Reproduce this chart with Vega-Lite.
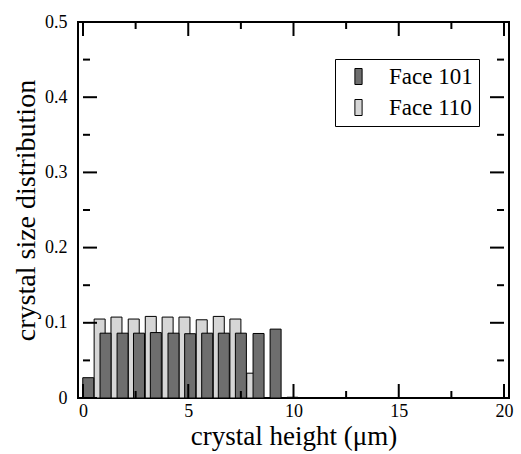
{
  "$schema": "https://vega.github.io/schema/vega-lite/v6.json",
  "width": 431,
  "height": 376,
  "autosize": "none",
  "padding": {"left": 78, "top": 22, "right": 12, "bottom": 56},
  "background": "white",
  "config": {"view": {"stroke": "black", "strokeWidth": 2}, "font": "Liberation Serif"},
  "datasets": {
    "bars": [
      {"height": 0.79, "dist": 0.105, "face": "Face 110"},
      {"height": 1.59, "dist": 0.1076, "face": "Face 110"},
      {"height": 2.41, "dist": 0.105, "face": "Face 110"},
      {"height": 3.22, "dist": 0.1085, "face": "Face 110"},
      {"height": 4.02, "dist": 0.1076, "face": "Face 110"},
      {"height": 4.82, "dist": 0.1076, "face": "Face 110"},
      {"height": 5.64, "dist": 0.104, "face": "Face 110"},
      {"height": 6.45, "dist": 0.1085, "face": "Face 110"},
      {"height": 7.24, "dist": 0.105, "face": "Face 110"},
      {"height": 8.04, "dist": 0.033, "face": "Face 110"},
      {"height": 0.25, "dist": 0.027, "face": "Face 101"},
      {"height": 1.07, "dist": 0.0862, "face": "Face 101"},
      {"height": 1.88, "dist": 0.0862, "face": "Face 101"},
      {"height": 2.66, "dist": 0.0862, "face": "Face 101"},
      {"height": 3.46, "dist": 0.087, "face": "Face 101"},
      {"height": 4.3, "dist": 0.0862, "face": "Face 101"},
      {"height": 5.09, "dist": 0.0855, "face": "Face 101"},
      {"height": 5.9, "dist": 0.0862, "face": "Face 101"},
      {"height": 6.69, "dist": 0.0862, "face": "Face 101"},
      {"height": 7.5, "dist": 0.0862, "face": "Face 101"},
      {"height": 8.34, "dist": 0.0858, "face": "Face 101"},
      {"height": 9.15, "dist": 0.0916, "face": "Face 101"},
      {"height": 9.95, "dist": 0.001, "face": "Face 101"}
    ],
    "xmajor": [{"v": 0}, {"v": 5}, {"v": 10}, {"v": 15}, {"v": 20}],
    "xminor": [{"v": 2.5}, {"v": 7.5}, {"v": 12.5}, {"v": 17.5}],
    "ymajor": [{"v": 0}, {"v": 0.1}, {"v": 0.2}, {"v": 0.3}, {"v": 0.4}, {"v": 0.5}],
    "yminor": [{"v": 0.05}, {"v": 0.15}, {"v": 0.25}, {"v": 0.35}, {"v": 0.45}]
  },
  "layer": [
    {
      "data": {"name": "bars"},
      "mark": {"type": "bar", "size": 11, "stroke": "black", "strokeWidth": 1},
      "encoding": {
        "x": {"field": "height", "type": "quantitative", "scale": {"domain": [0, 20], "nice": false, "zero": false},
          "axis": {"orient": "bottom", "values": [0, 5, 10, 15, 20], "format": "d",
            "grid": false, "domain": false, "ticks": false,
            "labelFontSize": 18, "labelColor": "black", "labelPadding": 4, "labelFlush": false,
            "title": "crystal height (μm)", "titleFontSize": 27, "titleFontWeight": "normal", "titleColor": "black", "titlePadding": 3}},
        "y": {"field": "dist", "type": "quantitative", "scale": {"domain": [0, 0.5], "nice": false},
          "axis": {"orient": "left", "values": [0, 0.1, 0.2, 0.3, 0.4, 0.5], "format": "~g",
            "grid": false, "domain": false, "ticks": false,
            "labelFontSize": 18, "labelColor": "black", "labelPadding": 11, "labelFlush": false,
            "title": "crystal size distribution", "titleFontSize": 28, "titleFontWeight": "normal", "titleColor": "black", "titlePadding": 4}},
        "color": {"field": "face", "type": "nominal",
          "scale": {"domain": ["Face 101", "Face 110"], "range": ["#6e6e6e", "#d6d6d6"]},
          "legend": {"orient": "none", "legendX": 257, "legendY": 37, "title": null,
            "fillColor": "white", "strokeColor": "black", "padding": 6, "symbolOffset": 6,
            "symbolType": "M-0.45,-1L0.45,-1L0.45,1L-0.45,1Z", "symbolSize": 256,
            "symbolStrokeColor": "black", "symbolStrokeWidth": 1, "symbolOpacity": 1,
            "labelFontSize": 23, "labelColor": "black", "labelOffset": 19, "rowPadding": 7}}
      }
    },
    {
      "data": {"name": "xmajor"},
      "mark": {"type": "rule", "color": "black", "strokeWidth": 2, "y2Offset": -14},
      "encoding": {"x": {"field": "v", "type": "quantitative"}, "y": {"datum": 0}, "y2": {"datum": 0}}
    },
    {
      "data": {"name": "xminor"},
      "mark": {"type": "rule", "color": "black", "strokeWidth": 2, "y2Offset": -7},
      "encoding": {"x": {"field": "v", "type": "quantitative"}, "y": {"datum": 0}, "y2": {"datum": 0}}
    },
    {
      "data": {"name": "xmajor"},
      "mark": {"type": "rule", "color": "black", "strokeWidth": 2, "y2Offset": 14},
      "encoding": {"x": {"field": "v", "type": "quantitative"}, "y": {"datum": 0.5}, "y2": {"datum": 0.5}}
    },
    {
      "data": {"name": "xminor"},
      "mark": {"type": "rule", "color": "black", "strokeWidth": 2, "y2Offset": 7},
      "encoding": {"x": {"field": "v", "type": "quantitative"}, "y": {"datum": 0.5}, "y2": {"datum": 0.5}}
    },
    {
      "data": {"name": "ymajor"},
      "mark": {"type": "rule", "color": "black", "strokeWidth": 2, "x2Offset": 14},
      "encoding": {"y": {"field": "v", "type": "quantitative"}, "x": {"datum": 0}, "x2": {"datum": 0}}
    },
    {
      "data": {"name": "yminor"},
      "mark": {"type": "rule", "color": "black", "strokeWidth": 2, "x2Offset": 7},
      "encoding": {"y": {"field": "v", "type": "quantitative"}, "x": {"datum": 0}, "x2": {"datum": 0}}
    },
    {
      "data": {"name": "ymajor"},
      "mark": {"type": "rule", "color": "black", "strokeWidth": 2, "x2Offset": -14},
      "encoding": {"y": {"field": "v", "type": "quantitative"}, "x": {"datum": 20}, "x2": {"datum": 20}}
    },
    {
      "data": {"name": "yminor"},
      "mark": {"type": "rule", "color": "black", "strokeWidth": 2, "x2Offset": -7},
      "encoding": {"y": {"field": "v", "type": "quantitative"}, "x": {"datum": 20}, "x2": {"datum": 20}}
    }
  ]
}
